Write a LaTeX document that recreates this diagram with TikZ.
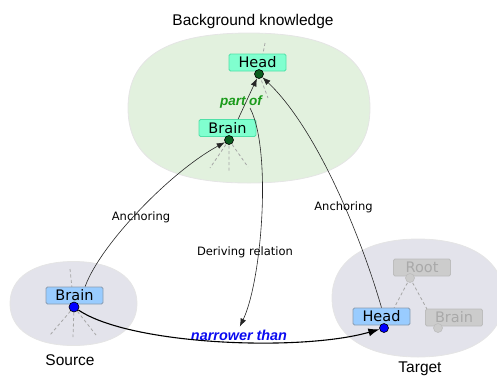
\documentclass[tikz,border=0pt]{standalone}
\usepackage{fontspec}
\setmainfont{Liberation Sans}
\newfontfamily\dvs{DejaVu Sans}
\usetikzlibrary{arrows.meta,calc}

\definecolor{bgblob}{HTML}{E2F1DE}
\definecolor{grayblob}{HTML}{E3E3EB}
\definecolor{aqua}{HTML}{80FFCF}
\definecolor{aquaedge}{HTML}{50E0A8}
\definecolor{lblue}{HTML}{99CCFF}
\definecolor{lblueedge}{HTML}{8A9CB0}
\definecolor{gbox}{HTML}{CCCCCC}
\definecolor{gboxedge}{HTML}{BDBDBD}
\definecolor{gtext}{HTML}{A9A9A9}
\definecolor{dgreen}{HTML}{0B5E1E}
\definecolor{pgreen}{HTML}{1A9A1A}
\definecolor{nblue}{HTML}{0A0AF0}

% cx cy rx ry k
\newcommand{\blobpath}[5]{%
 ({#1+#3},{#2}) .. controls ({#1+#3},{#2+#5*#4}) and ({#1+#5*#3},{#2+#4}) .. ({#1},{#2+#4})
 .. controls ({#1-#5*#3},{#2+#4}) and ({#1-#3},{#2+#5*#4}) .. ({#1-#3},{#2})
 .. controls ({#1-#3},{#2-#5*#4}) and ({#1-#5*#3},{#2-#4}) .. ({#1},{#2-#4})
 .. controls ({#1+#5*#3},{#2-#4}) and ({#1+#3},{#2-#5*#4}) .. cycle}

\begin{document}
\begin{tikzpicture}[x=1pt,y=-1pt,
  concept/.style={rectangle, rounded corners=1.5pt, minimum width=57pt, minimum height=17pt,
    inner sep=0pt, text height=10.5pt, text depth=0pt,
    font=\dvs\fontsize{14.5}{16}\selectfont, line width=0.8pt},
  bgbox/.style={concept, fill=aqua, draw=aquaedge},
  srcbox/.style={concept, fill=lblue, draw=lblueedge},
  ghostbox/.style={concept, fill=gbox, draw=gboxedge, text=gtext},
  knot/.style={circle, inner sep=0pt, minimum size=9pt, draw=black, line width=0.6pt},
  treeline/.style={draw=black!35, dash pattern=on 3pt off 2.5pt, line width=0.8pt},
  rel/.style={draw=black!85, line width=0.6pt, -{Latex[length=8pt,width=6pt]}},
  lbl/.style={font=\dvs\fontsize{11.5}{13}\selectfont, anchor=base, inner sep=1pt},
  caption/.style={font=\fontsize{15.5}{18}\selectfont, anchor=base, inner sep=1pt},
  blobline/.style={draw=black!10, line width=0.8pt},
]
\useasboundingbox (0,0) rectangle (497,376);

% blobs
\path[fill=bgblob, blobline] \blobpath{249}{108}{121}{75}{0.68};
\path[fill=grayblob, blobline] \blobpath{73.5}{303.5}{63.5}{42}{0.62};
\path[fill=grayblob, blobline] \blobpath{418}{298}{86}{59}{0.62};

% dot positions
\coordinate (bhc) at (259,74);
\coordinate (bbc) at (229,140);
\coordinate (sc) at (74,307);
\coordinate (tc) at (384,328);
\coordinate (rc) at (410,278);
\coordinate (gc) at (438,328);

% tree (dashed) lines
\coordinate (bhup) at (265,43);
\coordinate (bhdown) at (268,98);
\coordinate (bbl) at (210,168);
\coordinate (bbm) at (229,171);
\coordinate (bbr) at (248,167);
\coordinate (sup1) at (70,269);
\coordinate (sbl) at (50,335);
\coordinate (sbm) at (73,337);
\coordinate (sbr) at (96,335);
\coordinate (tl) at (393,310);
\coordinate (tr) at (428,311);
\draw[treeline] (bhup) -- (bhc) -- (bhdown);
\draw[treeline] (bbc) -- (bbl) (bbc) -- (bbm) (bbc) -- (bbr);
\draw[treeline] (sup1) -- (sc) (sc) -- (sbl) (sc) -- (sbm) (sc) -- (sbr);
\draw[treeline] (rc) -- (tl) (rc) -- (tr);

% concept boxes
\node[bgbox] (bhead) at (257.5,62.5) {Head};
\node[bgbox] (bbrain) at (227.5,128) {Brain};
\node[srcbox] (sbrain) at (74.5,295.5) {Brain};
\node[srcbox] (thead) at (381.5,316.5) {Head};
\node[ghostbox] (troot) at (422,267.5) {Root};
\node[ghostbox] (tbrain) at (454,317.5) {Brain};

% dots
\node[knot, fill=dgreen] (bhdot) at (bhc) {};
\node[knot, fill=dgreen] (bbdot) at (bbc) {};
\node[knot, fill=blue, minimum size=10pt] (sdot) at (sc) {};
\node[knot, fill=blue] (tdot) at (tc) {};
\node[knot, fill=gbox, draw=gboxedge] (rdot) at (rc) {};
\node[knot, fill=gbox, draw=gboxedge] (gdot) at (gc) {};

% labels
\node[font=\bfseries\itshape\fontsize{13.5}{15}\selectfont, text=pgreen, anchor=base, inner sep=1pt] (partof) at (241,105) {part of};
\node[font=\bfseries\itshape\fontsize{14.4}{16}\selectfont, text=nblue, anchor=base, inner sep=1pt] (narrower) at (239,340) {narrower than};
\node[lbl] (anc1) at (141,220.5) {Anchoring};
\node[lbl] (anc2) at (343.5,210.5) {Anchoring};
\node[lbl] (deriv) at (245,255) {Deriving relation};
\node[caption] (bgtitle) at (253,25) {Background knowledge};
\node[caption] (srctitle) at (70,365) {Source};
\node[caption] (tgttitle) at (420,372) {Target};

% relations
\coordinate (derivstart) at (250,108);
\draw[rel] (bbrain.40) -- (bhdot);
\draw[rel] (sbrain.40) .. controls (100,245) and (170,172) .. (bbdot);
\draw[rel] (thead.north) .. controls (362,240) and (318,130) .. (bhdot);
\draw[rel, shorten >=2pt] (derivstart) .. controls (272,150) and (262,280) .. (narrower.north);
\draw[rel, draw=black, line width=1.1pt, -{Latex[length=11pt,width=8pt]}] (sdot) .. controls (130,345) and (300,352) .. (tdot);
\end{tikzpicture}
\end{document}
